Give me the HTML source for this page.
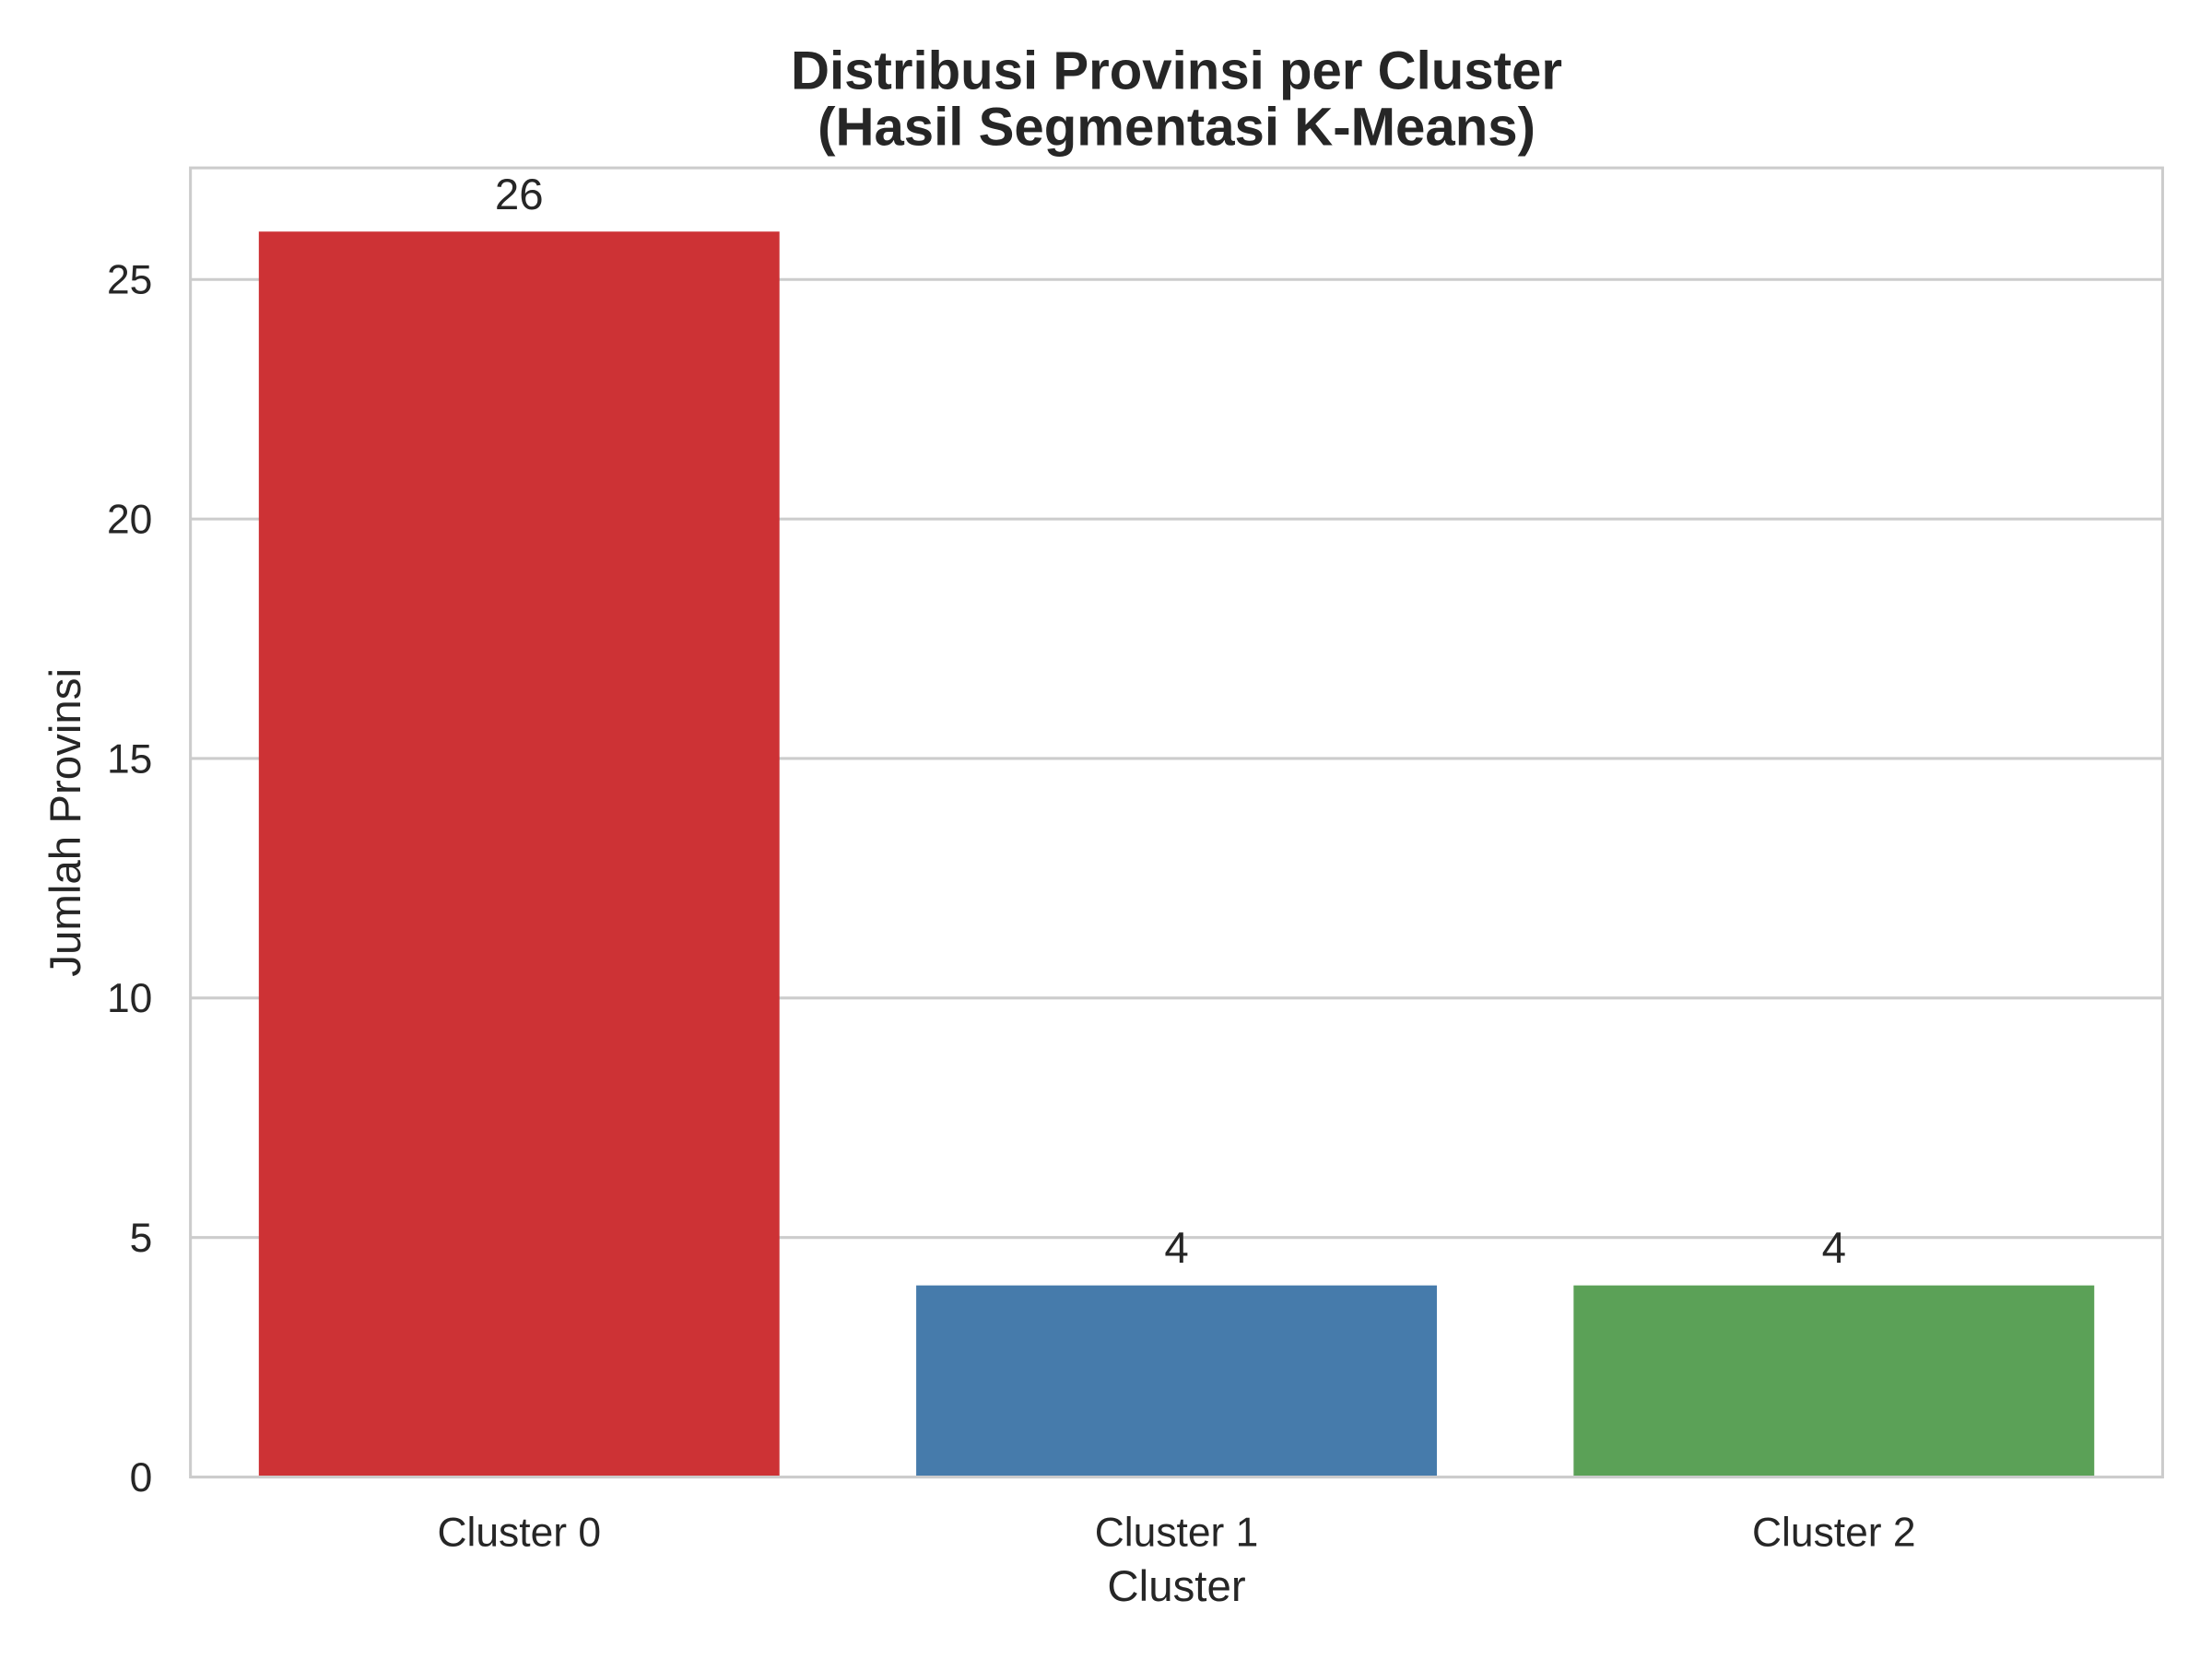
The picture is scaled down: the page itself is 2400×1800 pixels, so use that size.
<!DOCTYPE html>
<html>
<head>
<meta charset="utf-8">
<style>
  html,body{margin:0;padding:0;background:#fff;}
  svg{display:block;}
  text{font-family:"Liberation Sans",Arial,sans-serif;fill:#262626;}
</style>
</head>
<body>
<svg id="chart" xmlns="http://www.w3.org/2000/svg" width="2400" height="1800" viewBox="0 0 1568 1176">
  <rect x="0" y="0" width="1568" height="1176" fill="#ffffff"/>
  <text x="834" y="63" text-anchor="middle" font-size="38" font-weight="bold">Distribusi Provinsi per Cluster</text>
  <text x="834" y="103" text-anchor="middle" font-size="38" font-weight="bold">(Hasil Segmentasi K-Means)</text>
  <g id="grid"></g>
  <g id="bars"></g>
  <g id="labels"></g>
  <rect x="135" y="119" width="1398" height="928" fill="none" stroke="#cccccc" stroke-width="2"/>
  <g id="yticks"></g>
  <g id="xticks"></g>
  <text x="834" y="1135" text-anchor="middle" font-size="31">Cluster</text>
  <text transform="translate(57,583) rotate(-90)" text-anchor="middle" font-size="31">Jumlah Provinsi</text>
</svg>
<script>
const categories = ["Cluster 0", "Cluster 1", "Cluster 2"];
const values = [26, 4, 4];
const colors = ["#cd3235", "#467bab", "#5ba157"];
const yTicks = [0, 5, 10, 15, 20, 25];

const NS = "http://www.w3.org/2000/svg";
const L = 135, R = 1533, T = 119, B = 1047;
const yMax = 27.33;
function y(v){ return B - v / yMax * (B - T); }
const band = (R - L) / categories.length;
function xc(i){ return L + band * (i + 0.5); }
const barW = band * 0.792;

function mk(tag, attrs, parent){
  const el = document.createElementNS(NS, tag);
  for (const k in attrs) el.setAttribute(k, attrs[k]);
  parent.appendChild(el);
  return el;
}
const grid = document.getElementById('grid');
const yt = document.getElementById('yticks');
yTicks.forEach(t => {
  const ln = mk('line', {x1: L, x2: R, y1: y(t), y2: y(t), stroke: '#cccccc', 'stroke-width': 2}, grid);
  
  
  const tx = mk('text', {x: L - 27, y: y(t) + 10, 'text-anchor': 'end', 'font-size': 29}, yt);
  tx.textContent = t;
  
  
});
const bars = document.getElementById('bars');
const labels = document.getElementById('labels');
const xt = document.getElementById('xticks');
categories.forEach((c, i) => {
  const r = mk('rect', {x: xc(i) - barW / 2, y: y(values[i]), width: barW, height: y(0) - y(values[i]), fill: colors[i]}, bars);
  
  
  const lb = mk('text', {x: xc(i), y: y(values[i]) - 16, 'text-anchor': 'middle', 'font-size': 31}, labels);
  lb.textContent = values[i];
  
  
  const tx = mk('text', {x: xc(i), y: 1096, 'text-anchor': 'middle', 'font-size': 29}, xt);
  tx.textContent = c;
  
  
});
</script>
</body>
</html>
